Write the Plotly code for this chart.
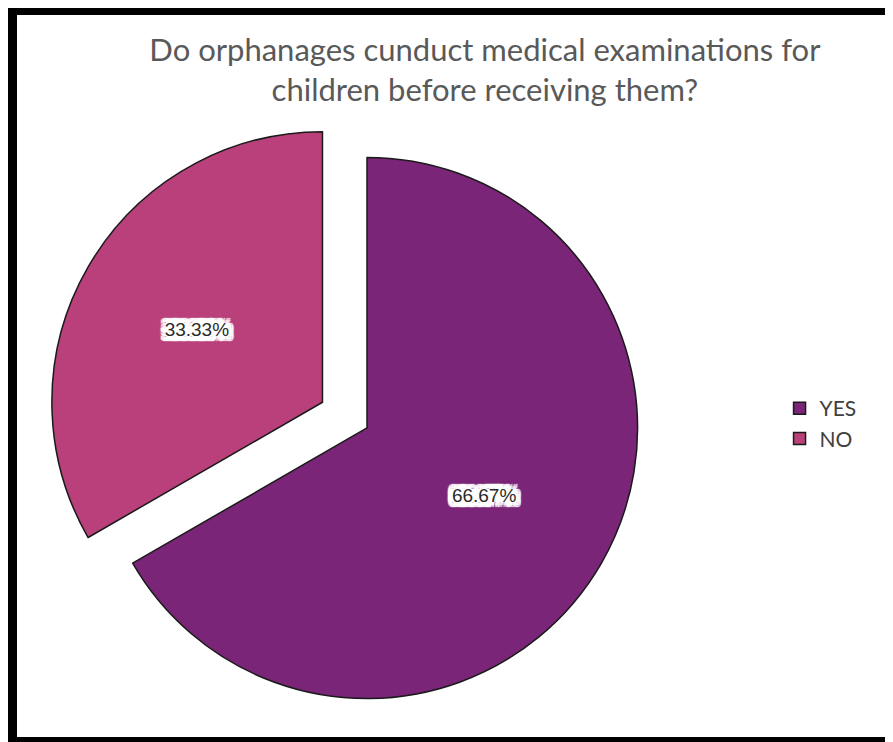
"""
Pie chart: medical examinations in orphanages.
"""
import plotly.graph_objects as go

labels = ["YES", "NO"]
values = [66.67, 33.33]
colors = ["#7a2577", "#b9407b"]
pulls = [0, 0.19]

title_text = "Do orphanages cunduct medical examinations for<br>children before receiving them?"

# white halo behind the slice labels so they read like the boxed labels
halo = ", ".join(f"{dx}px {dy}px 1px #fff"
                 for dx in (-5, -3, 0, 3, 5) for dy in (-5, -3, 0, 3, 5))


def plot_exam_pie():
    fig = go.Figure(go.Pie(
        labels=labels,
        values=values,
        sort=False,
        direction="clockwise",
        rotation=0,
        pull=pulls,
        marker=dict(colors=colors, line=dict(color="#1a1a1a", width=1.5)),
        texttemplate="%{percent:.2%}",
        textposition="inside",
        insidetextorientation="horizontal",
        insidetextfont=dict(family="Arial", size=19, color="#2a2a2a", shadow=halo),
        domain=dict(x=[37 / 893, 681 / 893], y=[0, 0.868]),
        hoverinfo="label+percent",
    ))

    # black frame (left, top, bottom; the right side is cut off in the original)
    frame = dict(color="black", width=10)
    x_left, y_top, y_bottom = 4 / 893, 1 - 2 / 742, 8 / 742
    fig.add_shape(type="line", xref="paper", yref="paper",
                  x0=x_left, x1=x_left, y0=-0.01, y1=1.01, line=frame)
    fig.add_shape(type="line", xref="paper", yref="paper",
                  x0=0, x1=1.05, y0=y_top, y1=y_top, line=frame)
    fig.add_shape(type="line", xref="paper", yref="paper",
                  x0=0, x1=1.05, y0=y_bottom, y1=y_bottom, line=frame)

    fig.update_layout(
        title=dict(
            text=title_text,
            font=dict(family="Lato", size=31, color="#595959"),
            x=0.534, xanchor="center",
            y=1 - 53 / 742, yanchor="top",
        ),
        legend=dict(
            x=0.864, y=0.44, xanchor="left", yanchor="middle",
            font=dict(family="Lato", size=21, color="#404040"),
            bgcolor="rgba(0,0,0,0)",
        ),
        width=893,
        height=742,
        autosize=False,
        margin=dict(l=0, r=0, t=0, b=0),
        paper_bgcolor="white",
    )

    return fig


fig = plot_exam_pie()
fig.write_html("out.html")
